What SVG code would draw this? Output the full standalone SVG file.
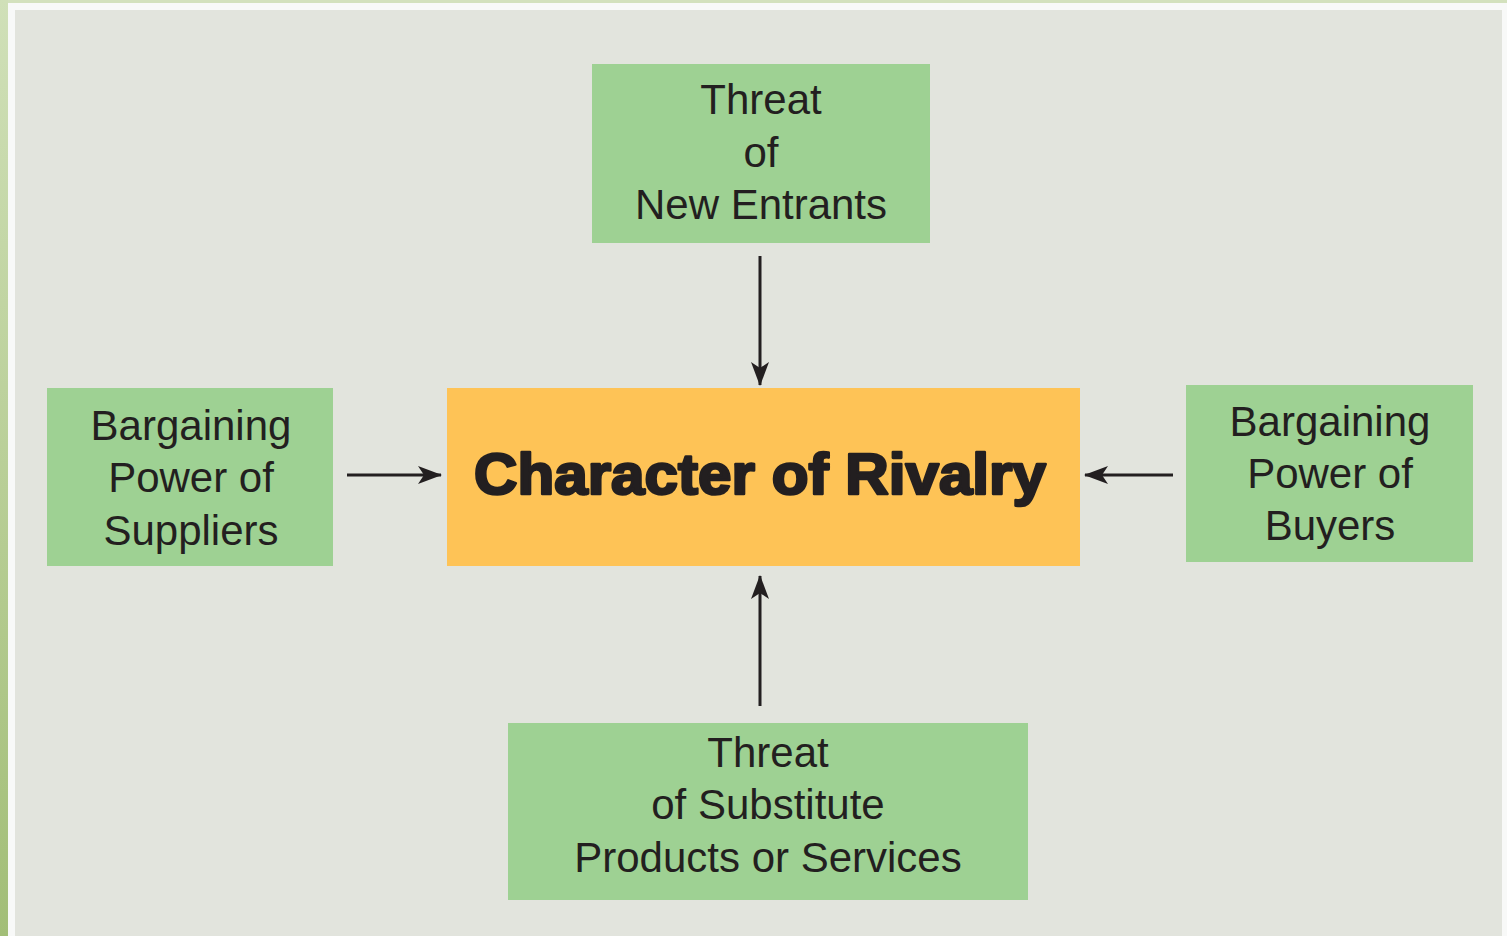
<svg xmlns="http://www.w3.org/2000/svg" width="1507" height="936" viewBox="0 0 1507 936">
<defs>
<linearGradient id="side" x1="0" y1="0" x2="0" y2="1">
<stop offset="0" stop-color="#d0e0b8"/>
<stop offset="1" stop-color="#a2be77"/>
</linearGradient>
<marker id="ah" viewBox="0 0 24 18" refX="23" refY="9" markerWidth="24" markerHeight="18" markerUnits="userSpaceOnUse" orient="auto">
<path d="M0,0 L24,9 L0,18 L6,9 Z" fill="#231f20"/>
</marker>
<style>
.box{fill:#9ed193}
.core{fill:#fec356}
.t{font-family:"Liberation Sans",Arial,sans-serif;font-size:42px;fill:#231f20;text-anchor:middle}
.b{font-family:"Liberation Sans",Arial,sans-serif;font-size:57px;font-weight:bold;fill:#231f20;stroke:#231f20;stroke-width:2.6;stroke-linejoin:round;text-anchor:middle}
.c{stroke:#231f20;stroke-width:3;fill:none;marker-end:url(#ah)}
</style>
</defs>
<rect x="0" y="0" width="1507" height="936" fill="#f8f9f8"/>
<rect x="0" y="0" width="1507" height="3" fill="#d3e1bd"/>
<rect x="0" y="0" width="8" height="936" fill="url(#side)"/>
<rect x="15" y="10" width="1487" height="926" fill="#e2e4dd"/>
<g id="connectors">
<line class="c" x1="760" y1="256" x2="760" y2="385"/>
<line class="c" x1="347" y1="475" x2="441" y2="475"/>
<line class="c" x1="1173" y1="475" x2="1085" y2="475"/>
<line class="c" x1="760" y1="706" x2="760" y2="576"/>
</g>
<g id="new-entrants">
<rect class="box" x="592" y="64" width="338" height="179"/>
<text class="t" x="761" y="114">Threat</text>
<text class="t" x="761" y="167">of</text>
<text class="t" x="761" y="219">New Entrants</text>
</g>
<g id="suppliers">
<rect class="box" x="47" y="388" width="286" height="178"/>
<text class="t" x="191" y="440">Bargaining</text>
<text class="t" x="191" y="492">Power of</text>
<text class="t" x="191" y="545">Suppliers</text>
</g>
<g id="rivalry">
<rect class="core" x="447" y="388" width="633" height="178"/>
<text class="b" x="760" y="494" textLength="572" lengthAdjust="spacingAndGlyphs">Character of Rivalry</text>
</g>
<g id="buyers">
<rect class="box" x="1186" y="385" width="287" height="177"/>
<text class="t" x="1330" y="436">Bargaining</text>
<text class="t" x="1330" y="488">Power of</text>
<text class="t" x="1330" y="540">Buyers</text>
</g>
<g id="substitutes">
<rect class="box" x="508" y="723" width="520" height="177"/>
<text class="t" x="768" y="767">Threat</text>
<text class="t" x="768" y="819">of Substitute</text>
<text class="t" x="768" y="872">Products or Services</text>
</g>
</svg>
